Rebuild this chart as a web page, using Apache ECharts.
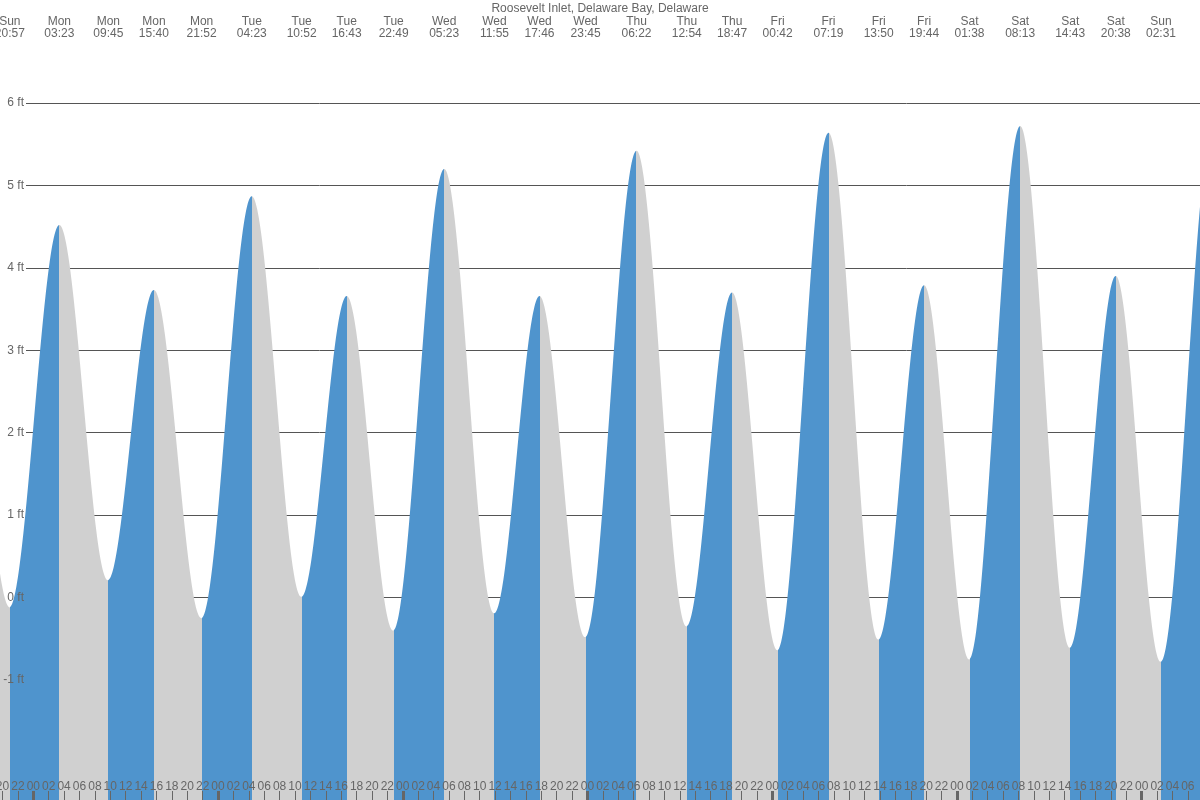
<!DOCTYPE html>
<html>
<head>
<meta charset="utf-8">
<title>Roosevelt Inlet tide chart</title>
<script src="https://cdn.jsdelivr.net/npm/echarts@6/dist/echarts.min.js"></script>
<style>
  html, body { margin: 0; padding: 0; background: #fff; }
  #chart { width: 1200px; height: 800px; }
</style>
</head>
<body>
<div id="chart"></div>
<script>
// high / low tide events (first two and last two lie outside the view)
const eventDays = ['Sun', 'Sun', 'Sun', 'Mon', 'Mon', 'Mon', 'Mon', 'Tue', 'Tue', 'Tue', 'Tue',
  'Wed', 'Wed', 'Wed', 'Wed', 'Thu', 'Thu', 'Thu', 'Fri', 'Fri', 'Fri', 'Fri',
  'Sat', 'Sat', 'Sat', 'Sat', 'Sun', 'Sun', 'Sun']
const eventTimes = ['08:40', '14:50', '20:57', '03:23', '09:45', '15:40', '21:52', '04:23', '10:52', '16:43', '22:49',
  '05:23', '11:55', '17:46', '23:45', '06:22', '12:54', '18:47', '00:42', '07:19', '13:50', '19:44',
  '01:38', '08:13', '14:43', '20:38', '02:31', '09:10', '15:30']
const eventHeights = [0.30, 3.60, -0.12, 4.52, 0.21, 3.73, -0.25, 4.87, 0.01, 3.66, -0.40,
  5.20, -0.19, 3.66, -0.48, 5.42, -0.35, 3.70, -0.64, 5.64, -0.51, 3.79,
  -0.75, 5.72, -0.61, 3.90, -0.78, 5.65, -0.65]

// hours counted from Monday 00:00
const hourTicks = []
for (let h = -4; h <= 150; h += 2) hourTicks.push(h)
const midnightTicks = [0, 24, 48, 72, 96, 120, 144]
const yTicks = [-1, 0, 1, 2, 3, 4, 5, 6]

const BLUE = '#4f94cd'
const GRAY = '#d0d0d0'
const TEXT = '#666'
const FONT = 'Liberation Sans, Arial, sans-serif'

// turn day + time into hours
const eventHours = []
let dayIdx = -1
eventDays.forEach((d, i) => {
  if (i > 0 && d !== eventDays[i - 1]) dayIdx++
  const [hh, mm] = eventTimes[i].split(':').map(Number)
  eventHours.push(dayIdx * 24 + hh + mm / 60)
})
const labelByHour = {}
eventHours.forEach((h, i) => { labelByHour[h.toFixed(4)] = eventDays[i] + '\n' + eventTimes[i] })

const tideData = eventHours.map((h, i) => [h, eventHeights[i]])

// rising = blue, falling = gray
const pieces = []
for (let i = 0; i < eventHours.length - 1; i++) {
  pieces.push({
    gte: eventHours[i],
    lt: eventHours[i + 1],
    color: eventHeights[i + 1] > eventHeights[i] ? BLUE : GRAY
  })
}

const xMin = -4.327
const xMax = 151.58

const chart = echarts.init(document.getElementById('chart'))
chart.setOption({
  animation: false,
  backgroundColor: '#fff',
  title: {
    text: 'Roosevelt Inlet, Delaware Bay, Delaware',
    left: 'center',
    top: -2,
    textStyle: { fontSize: 12, fontWeight: 'normal', color: TEXT, fontFamily: FONT }
  },
  grid: [
    { left: 0, right: 0, top: 103, bottom: 0, containLabel: false, outerBoundsMode: 'none' },
    { left: 26, right: 0, top: 103, height: 741.9, containLabel: false, outerBoundsMode: 'none' }
  ],
  visualMap: {
    show: false,
    type: 'piecewise',
    dimension: 0,
    seriesIndex: 0,
    pieces: pieces
  },
  xAxis: [
    {
      // 2-hour ticks and labels
      gridIndex: 0, type: 'value', min: xMin, max: xMax, position: 'bottom', z: 5,
      axisLine: { show: false, onZero: false },
      splitLine: { show: false },
      axisTick: { inside: true, length: 9, customValues: hourTicks, lineStyle: { color: TEXT, width: 1 } },
      axisLabel: {
        inside: true, margin: 7, customValues: hourTicks, color: TEXT, fontSize: 12, fontFamily: FONT,
        formatter: v => String(((Math.round(v) % 24) + 24) % 24).padStart(2, '0')
      }
    },
    {
      // midnight ticks
      gridIndex: 0, type: 'value', min: xMin, max: xMax, position: 'bottom', z: 5,
      axisLine: { show: false, onZero: false },
      splitLine: { show: false },
      axisTick: { inside: true, length: 9, customValues: midnightTicks, lineStyle: { color: TEXT, width: 3 } },
      axisLabel: { show: false }
    },
    {
      // high / low times on top
      gridIndex: 0, type: 'value', min: xMin, max: xMax, position: 'top', z: 5,
      axisLine: { show: false, onZero: false },
      splitLine: { show: false },
      axisTick: { show: false },
      axisLabel: {
        margin: 63, customValues: eventHours, color: TEXT, fontSize: 12, lineHeight: 12, fontFamily: FONT,
        formatter: v => labelByHour[v.toFixed(4)] || ''
      }
    },
    { gridIndex: 1, type: 'value', min: xMin, max: xMax, show: false, position: 'bottom', axisLine: { onZero: false } }
  ],
  yAxis: [
    { gridIndex: 0, type: 'value', min: -2.456, max: 6, show: false, position: 'left', axisLine: { onZero: false } },
    {
      // gridlines behind the fill
      gridIndex: 1, type: 'value', min: -3, max: 6, interval: 1, position: 'left', z: 0,
      axisLine: { show: false, onZero: false },
      axisTick: { show: false },
      axisLabel: { show: false },
      splitLine: { show: true, lineStyle: { color: '#555', width: 1 } }
    },
    {
      // ft labels above the fill
      gridIndex: 1, type: 'value', min: -3, max: 6, interval: 1, position: 'left', z: 5,
      axisLine: { show: false, onZero: false },
      axisTick: { show: false },
      splitLine: { show: false },
      axisLabel: {
        margin: 2, color: TEXT, fontSize: 12, fontFamily: FONT,
        customValues: yTicks,
        formatter: v => v + ' ft'
      }
    }
  ],
  series: [
    {
      type: 'line',
      xAxisIndex: 0,
      yAxisIndex: 0,
      data: tideData,
      smooth: 0.34,
      smoothMonotone: 'x',
      symbol: 'none',
      silent: true,
      lineStyle: { width: 0 },
      areaStyle: { opacity: 1, origin: 'start' }
    }
  ]
})
</script>
</body>
</html>
